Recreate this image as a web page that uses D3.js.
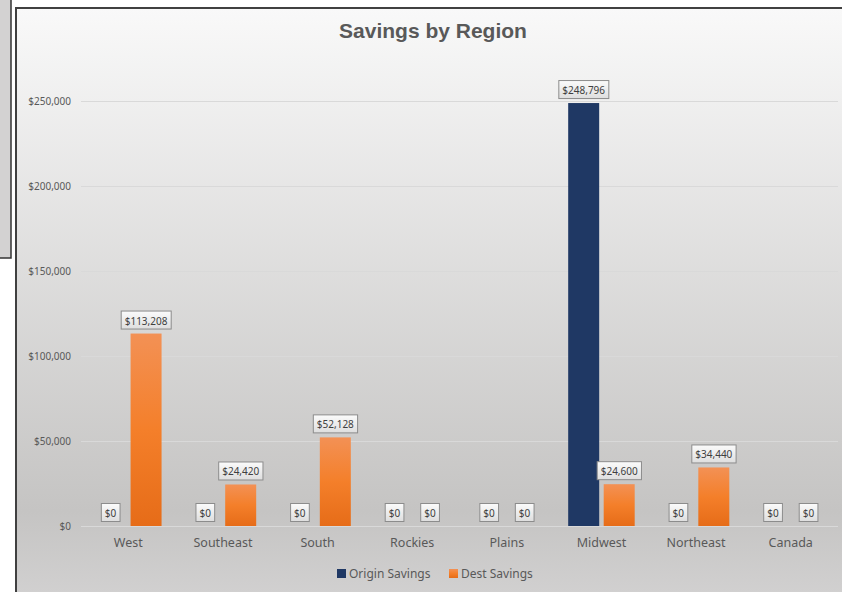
<!DOCTYPE html>
<html>
<head>
<meta charset="utf-8">
<script src="https://cdn.jsdelivr.net/npm/d3@7/dist/d3.min.js"></script>
<style>
  body { margin: 0; background: #fff; }
  svg { display: block; }
</style>
</head>
<body>
<div id="chart"></div>
<script>
// data
const regions = ['West', 'Southeast', 'South', 'Rockies', 'Plains', 'Midwest', 'Northeast', 'Canada'];
const originSavings = [0, 0, 0, 0, 0, 248796, 0, 0];
const destSavings = [113208, 24420, 52128, 0, 0, 24600, 34440, 0];
const seriesNames = ['Origin Savings', 'Dest Savings'];
const yTicks = [0, 50000, 100000, 150000, 200000, 250000];

const width = 842;
const height = 592;
const plot = { left: 81, right: 838, top: 101, bottom: 526 };

const svg = d3.select('#chart')
    .append('svg')
    .attr('width', width)
    .attr('height', height);

const defs = svg.append('defs');

const bg = defs.append('linearGradient')
    .attr('id', 'bg')
    .attr('x1', 0).attr('y1', 0).attr('x2', 0).attr('y2', 1);
bg.append('stop').attr('offset', '0%').attr('stop-color', '#f9f9f9');
bg.append('stop').attr('offset', '85%').attr('stop-color', '#c5c4c3');
bg.append('stop').attr('offset', '100%').attr('stop-color', '#d2d1d1');

const orange = defs.append('linearGradient')
    .attr('id', 'orange')
    .attr('x1', 0).attr('y1', 0).attr('x2', 0).attr('y2', 1);
orange.append('stop').attr('offset', '0%').attr('stop-color', '#f39155');
orange.append('stop').attr('offset', '50%').attr('stop-color', '#f47f2a');
orange.append('stop').attr('offset', '100%').attr('stop-color', '#e66c18');

const boxGrad = defs.append('linearGradient')
    .attr('id', 'box')
    .attr('x1', 0).attr('y1', 0).attr('x2', 0).attr('y2', 1);
boxGrad.append('stop').attr('offset', '0%').attr('stop-color', '#fbfbfb');
boxGrad.append('stop').attr('offset', '100%').attr('stop-color', '#dedede');

// left side panel peeking in
svg.append('rect')
    .attr('x', -2).attr('y', -2)
    .attr('width', 13).attr('height', 260)
    .attr('fill', '#d3d2d2')
    .attr('stroke', '#333')
    .attr('stroke-width', 1.5);

// chart area
svg.append('rect')
    .attr('x', 16).attr('y', 8)
    .attr('width', width).attr('height', height)
    .attr('fill', 'url(#bg)')
    .attr('stroke', '#404040')
    .attr('stroke-width', 2);

svg.append('text')
    .attr('x', 433)
    .attr('y', 38)
    .attr('text-anchor', 'middle')
    .style('font-family', 'Liberation Sans, Arial, sans-serif')
    .style('font-weight', 'bold')
    .style('font-size', '21px')
    .attr('fill', '#595959')
    .text('Savings by Region');

const y = d3.scaleLinear()
    .domain([0, 250000])
    .range([plot.bottom, plot.top]);

const x = d3.scaleBand()
    .domain(regions)
    .range([plot.left, plot.right]);

const x1 = d3.scaleBand()
    .domain(seriesNames)
    .range([0, x.bandwidth()])
    .paddingInner(0.127)
    .paddingOuter(0.396);

// gridlines
svg.append('g')
    .selectAll('line')
    .data(yTicks)
    .enter()
    .append('line')
    .attr('x1', plot.left)
    .attr('x2', plot.right)
    .attr('y1', d => y(d) + 0.5)
    .attr('y2', d => y(d) + 0.5)
    .attr('stroke', '#d9d9d9')
    .attr('stroke-width', 1);

const yAxis = svg.append('g')
    .attr('transform', `translate(${plot.left - 10},0)`)
    .call(d3.axisLeft(y).tickValues(yTicks).tickSize(0).tickFormat(d => '$' + d3.format(',')(d)));
yAxis.select('.domain').remove();
yAxis.selectAll('text')
    .attr('x', 0)
    .attr('fill', '#595959')
    .style('font-family', 'Noto Sans, sans-serif')
    .style('font-size', '10px');

const xAxis = svg.append('g')
    .attr('transform', `translate(0,${plot.bottom})`)
    .call(d3.axisBottom(x).tickSize(0).tickPadding(12));
xAxis.select('.domain').remove();
xAxis.selectAll('text')
    .attr('fill', '#595959')
    .style('font-family', 'Noto Sans, sans-serif')
    .style('font-size', '12.5px');

const rows = regions.map((r, i) => [
    { region: r, series: seriesNames[0], value: originSavings[i] },
    { region: r, series: seriesNames[1], value: destSavings[i] }
]).flat();

const fills = { 'Origin Savings': '#1f3864', 'Dest Savings': 'url(#orange)' };

svg.append('g')
    .selectAll('rect')
    .data(rows.filter(d => d.value > 0))
    .enter()
    .append('rect')
    .attr('x', d => x(d.region) + x1(d.series))
    .attr('y', d => y(d.value))
    .attr('width', x1.bandwidth())
    .attr('height', d => y(0) - y(d.value))
    .attr('fill', d => fills[d.series]);

// data labels
const labels = svg.append('g')
    .selectAll('g')
    .data(rows)
    .enter()
    .append('g')
    .attr('transform', d => `translate(${x(d.region) + x1(d.series) + x1.bandwidth() / 2},${y(d.value) - 4})`);

labels.append('text')
    .attr('class', 'dl')
    .attr('text-anchor', 'middle')
    .attr('y', -5)
    .attr('fill', '#404040')
    .style('font-family', 'Noto Sans, sans-serif')
    .style('font-size', '10px')
    .text(d => '$' + d3.format(',')(d.value));

labels.each(function () {
    const g = d3.select(this);
    const bb = g.select('text').node().getBBox();
    g.insert('rect', 'text')
        .attr('x', bb.x - 3.5)
        .attr('y', -18.5)
        .attr('width', bb.width + 7)
        .attr('height', 18)
        .attr('fill', 'url(#box)')
        .attr('stroke', '#8c8c8c')
        .attr('stroke-width', 1);
});

// legend
const legend = svg.append('g')
    .attr('transform', 'translate(337,569)')
    .selectAll('g')
    .data(seriesNames)
    .enter()
    .append('g')
    .attr('transform', (d, i) => `translate(${i * 112},0)`);

legend.append('rect')
    .attr('width', 9)
    .attr('height', 9)
    .attr('fill', d => fills[d]);

legend.append('text')
    .attr('x', 12)
    .attr('y', 9)
    .attr('fill', '#595959')
    .style('font-family', 'Noto Sans, sans-serif')
    .style('font-size', '12px')
    .text(d => d);
</script>
</body>
</html>
